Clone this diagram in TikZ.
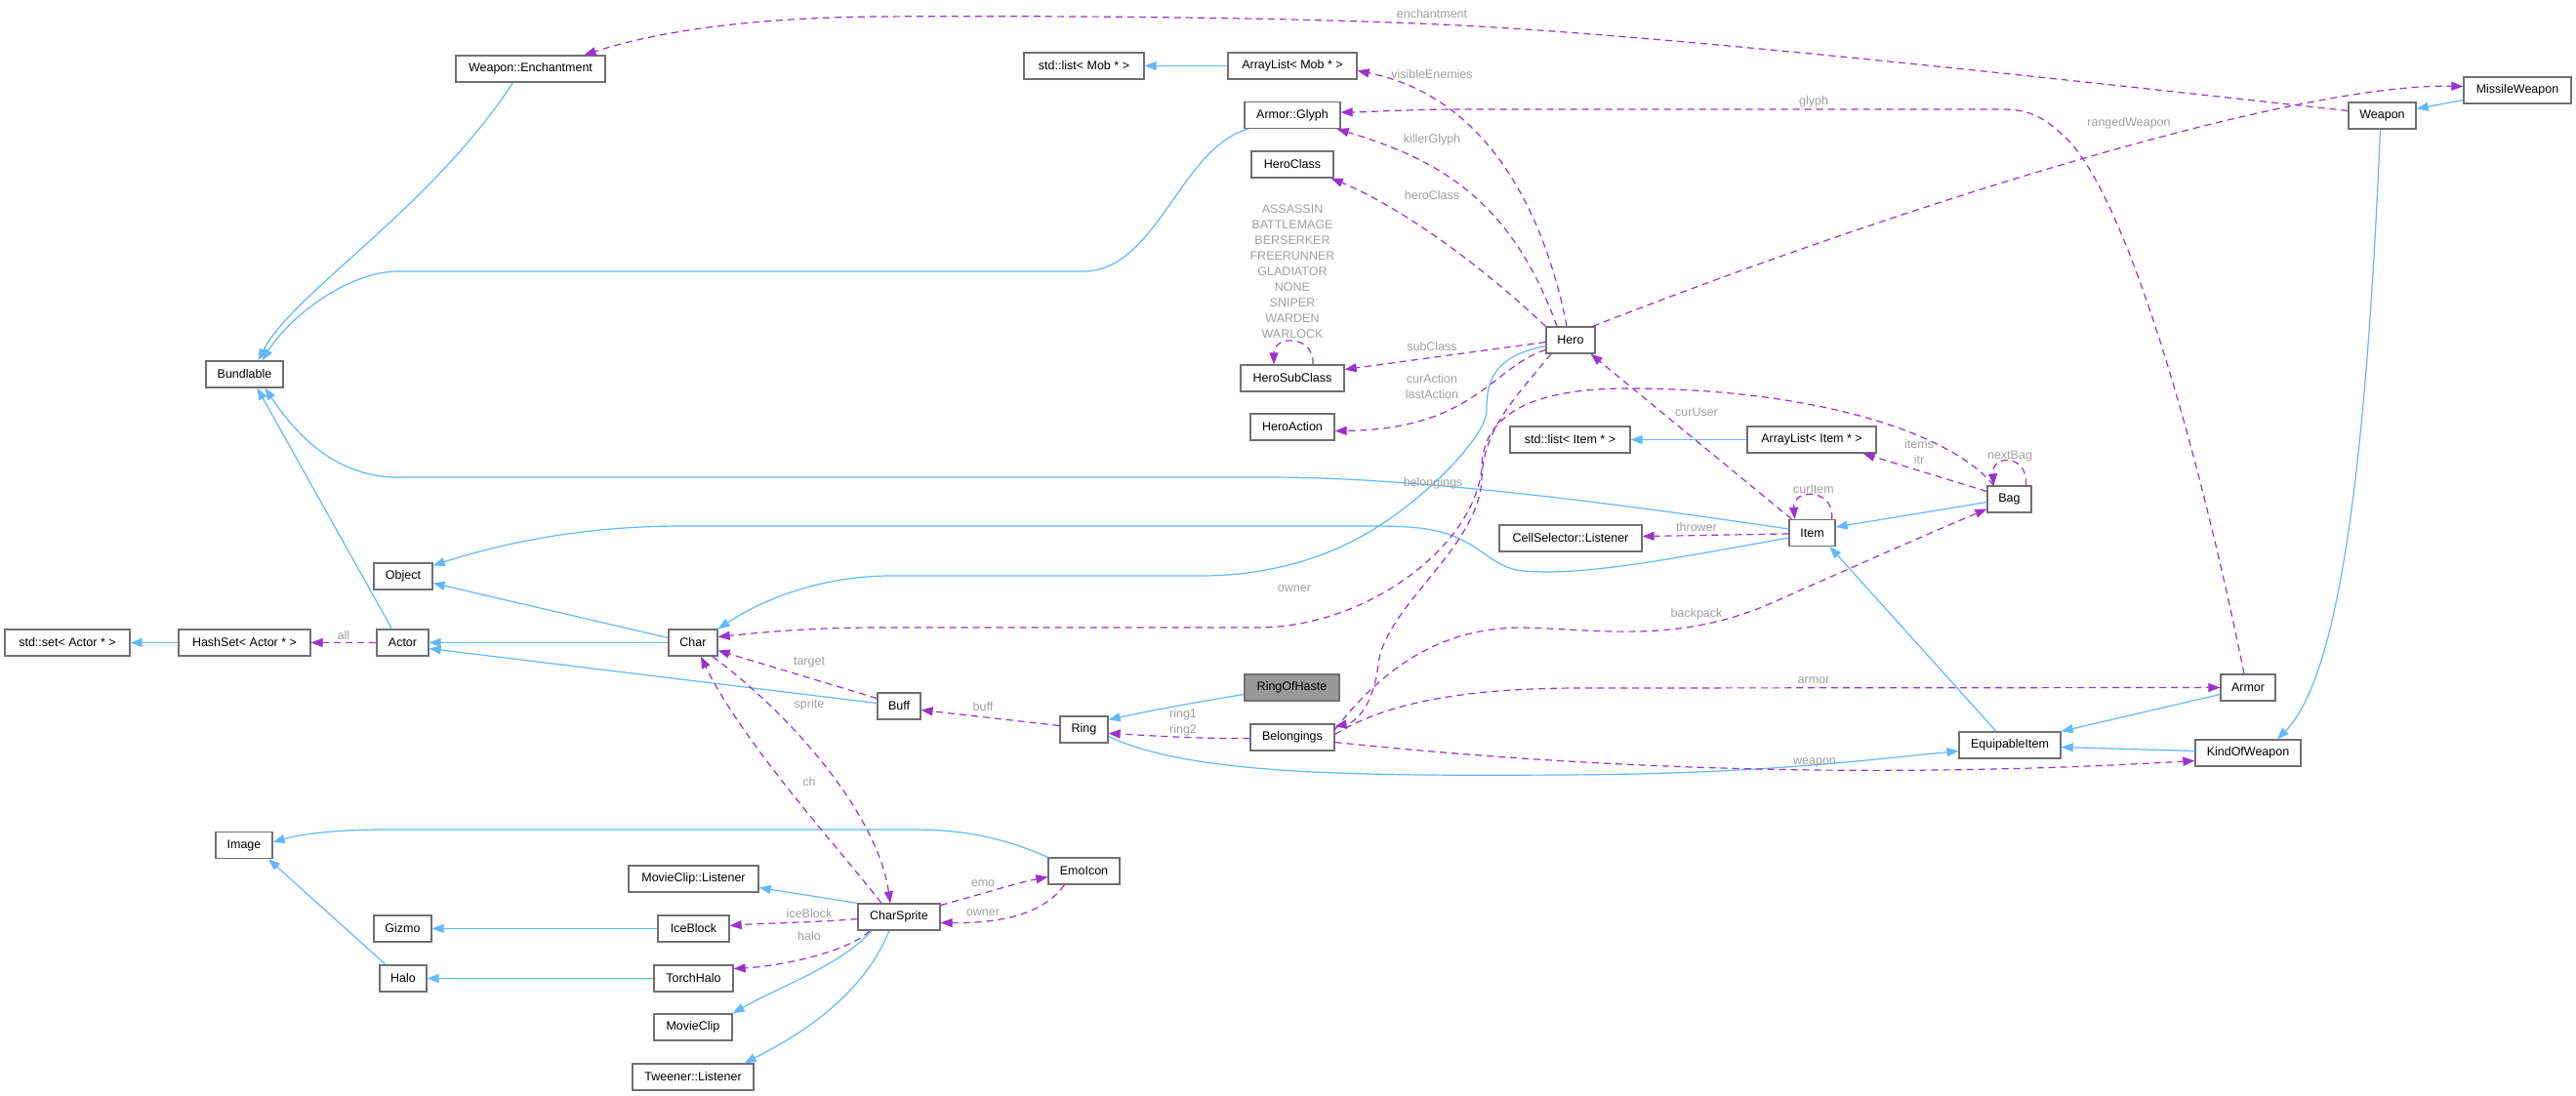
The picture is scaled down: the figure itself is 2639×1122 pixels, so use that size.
\documentclass[tikz,border=0pt]{standalone}
\usepackage{fontspec}
\setmainfont{Liberation Sans}
\usetikzlibrary{arrows.meta}
\definecolor{inhc}{HTML}{63B8FF}
\definecolor{usec}{HTML}{9A32CD}
\definecolor{labc}{HTML}{A0A0A0}
\definecolor{boxc}{HTML}{707070}
\definecolor{curc}{HTML}{999999}
\begin{document}
\begin{tikzpicture}[x=1pt,y=-1pt,
  cls/.style={draw=boxc, line width=1.3pt, fill=white, minimum height=27pt, inner sep=0pt, font=\fontsize{12.5}{15}\selectfont},
  cur/.style={cls, fill=curc},
  inh/.style={draw=inhc, line width=1.2pt, -{Triangle[length=12pt,width=9pt,fill=inhc]}},
  use/.style={draw=usec, line width=1.2pt, dash pattern=on 7pt off 5pt, -{Triangle[length=12pt,width=9pt,fill=usec]}},
  lab/.style={text=labc, inner sep=0pt, align=center, font=\fontsize{12.5}{16}\selectfont}]
\useasboundingbox (0,0) rectangle (2639,1122);
\fill[white] (0,0) rectangle (2639,1122);

% nodes
\node[cls, minimum width=153pt] (ench) at (543.5,70.5) {Weapon::Enchantment};
\node[cls, minimum width=79pt] (bund) at (250.5,383.5) {Bundlable};
\node[cls, minimum width=123pt] (listmob) at (1110.5,67.5) {std::list< Mob * >};
\node[cls, minimum width=132pt] (arrmob) at (1324,67.5) {ArrayList< Mob * >};
\node[cls, minimum width=98pt] (glyph) at (1324,118) {Armor::Glyph};
\node[cls, minimum width=84pt] (heroclass) at (1324,168.5) {HeroClass};
\node[cls, minimum width=106pt] (herosub) at (1324,387.5) {HeroSubClass};
\node[cls, minimum width=86pt] (heroact) at (1324,437.5) {HeroAction};
\node[cls, minimum width=50pt] (hero) at (1609,348.5) {Hero};
\node[cls, minimum width=110pt] (missile) at (2579,92.5) {MissileWeapon};
\node[cls, minimum width=69pt] (weapon) at (2440.5,118.5) {Weapon};
\node[cls, minimum width=123pt] (listitem) at (1608.5,450.5) {std::list< Item * >};
\node[cls, minimum width=132pt] (arritem) at (1856,450.5) {ArrayList< Item * >};
\node[cls, minimum width=45pt] (bag) at (2058.5,511.5) {Bag};
\node[cls, minimum width=47pt] (item) at (1856.5,546) {Item};
\node[cls, minimum width=146pt] (cell) at (1609,551.5) {CellSelector::Listener};
\node[cls, minimum width=56pt] (armor) at (2303,704.5) {Armor};
\node[cls, minimum width=104pt] (equip) at (2059,763.5) {EquipableItem};
\node[cls, minimum width=108pt] (kow) at (2303,771.5) {KindOfWeapon};
\node[cls, minimum width=44pt] (buff) at (921,723.5) {Buff};
\node[cls, minimum width=49pt] (ring) at (1110.5,747.5) {Ring};
\node[cur, minimum width=97pt] (roh) at (1323.5,704.5) {RingOfHaste};
\node[cls, minimum width=86pt] (belong) at (1324,755.5) {Belongings};
\node[cls, minimum width=128pt] (stdset) at (69,658.5) {std::set< Actor * >};
\node[cls, minimum width=135pt] (hashset) at (250.5,658.5) {HashSet< Actor * >};
\node[cls, minimum width=53pt] (actor) at (412.5,658.5) {Actor};
\node[cls, minimum width=60pt] (object) at (413,590.5) {Object};
\node[cls, minimum width=50pt] (char) at (710,658.5) {Char};
\node[cls, minimum width=58pt] (image) at (250,866) {Image};
\node[cls, minimum width=133pt] (mcl) at (710.5,900.5) {MovieClip::Listener};
\node[cls, minimum width=73pt] (emo) at (1110.5,892.5) {EmoIcon};
\node[cls, minimum width=59pt] (gizmo) at (412.5,951.5) {Gizmo};
\node[cls, minimum width=73pt] (ice) at (710.5,951.5) {IceBlock};
\node[cls, minimum width=84pt] (cs) at (921,939.5) {CharSprite};
\node[cls, minimum width=48pt] (halo) at (413,1002.5) {Halo};
\node[cls, minimum width=81pt] (torch) at (710.5,1002.5) {TorchHalo};
\node[cls, minimum width=80pt] (mc) at (710,1052.5) {MovieClip};
\node[cls, minimum width=124pt] (tween) at (710,1103.5) {Tweener::Listener};

% inheritance
\draw[inh] (arrmob.west) -- (listmob.east);
\draw[inh] ([xshift=-18pt]ench.south) .. controls (440,215) and (300,300) .. ([xshift=14pt]bund.north);
\draw[inh] ([xshift=-45pt]glyph.south) .. controls (1210,150) and (1185,278) .. (1110,278) -- (408,278) .. controls (360,278) and (300,320) .. ([xshift=18pt]bund.north);
\draw[inh] ([yshift=4pt]item.west) .. controls (1650,515) and (1450,489) .. (1300,489) -- (408,489) .. controls (340,489) and (300,440) .. ([xshift=21pt]bund.south);
\draw[inh] ([xshift=-11pt]actor.north) -- ([xshift=13pt]bund.south);
\draw[inh] ([yshift=5pt]char.west) -- ([yshift=-7pt]object.east);
\draw[inh] ([yshift=-5pt]item.west) .. controls (1700,575) and (1620,590) .. (1560,585) .. controls (1530,582) and (1520,560) .. (1483,547) .. controls (1460,540) and (1440,539) .. (1400,539) -- (700,539) .. controls (600,539) and (520,555) .. ([yshift=-3pt]object.north east);
\draw[inh] ([yshift=-6pt]hero.west) .. controls (1530,365) and (1523,390) .. (1523,420) .. controls (1523,450) and (1450,520) .. (1394,550) .. controls (1340,580) and (1280,590) .. (1230,590) -- (913,590) .. controls (840,590) and (780,615) .. (char.north east);
\draw[inh] (char.west) -- (actor.east);
\draw[inh] ([yshift=3pt]buff.west) -- ([yshift=-6pt]actor.east);
\draw[inh] (hashset.west) -- (stdset.east);
\draw[inh] (arritem.west) -- (listitem.east);
\draw[inh] ([yshift=-3pt]bag.west) -- ([yshift=6pt]item.east);
\draw[inh] ([xshift=-14pt]equip.north) -- ([xshift=18pt]item.south);
\draw[inh] ([yshift=-7pt]armor.west) -- (equip.north east);
\draw[inh] ([yshift=2pt]kow.west) -- ([yshift=-2pt]equip.east);
\draw[inh] ([yshift=-7pt]ring.east) .. controls (1220,795) and (1400,795) .. (1600,794) .. controls (1800,793) and (1900,780) .. ([yshift=-6pt]equip.west);
\draw[inh] ([yshift=-7pt]roh.west) .. controls (1210,722) and (1170,730) .. ([yshift=-4pt]ring.north east);
\draw[inh] ([xshift=-2pt]weapon.south) .. controls (2425,450) and (2400,690) .. ([xshift=30pt]kow.north);
\draw[inh] ([yshift=-10pt]missile.west) -- ([yshift=7pt]weapon.east);
\draw[inh] (emo.north west) .. controls (1010,850) and (960,850) .. (928,850) -- (392,850) .. controls (350,850) and (310,854) .. ([yshift=3pt]image.east);
\draw[inh] ([xshift=-18pt]halo.north) -- ([xshift=25pt]image.south);
\draw[inh] (ice.west) -- (gizmo.east);
\draw[inh] (torch.west) -- (halo.east);
\draw[inh] (cs.north west) -- ([yshift=-9pt]mcl.east);
\draw[inh] ([xshift=-28pt]cs.south) .. controls (860,990) and (800,1010) .. (mc.north east);
\draw[inh] ([xshift=-10pt]cs.south) .. controls (880,1030) and (800,1070) .. ([xshift=-10pt]tween.north east);

% usage
\draw[use] ([yshift=5pt]weapon.west) .. controls (2100,80) and (1700,35) .. (1474,25) .. controls (1300,17) and (1050,16) .. (900,17) .. controls (780,18) and (680,30) .. ([xshift=55pt]ench.north);
\draw[use] ([xshift=-4pt]hero.north) .. controls (1585,230) and (1530,100) .. ([yshift=-5pt]arrmob.east);
\draw[use] ([xshift=-14pt]hero.north) .. controls (1550,210) and (1480,165) .. ([xshift=-4pt]glyph.south east);
\draw[use] (hero.north west) .. controls (1510,265) and (1430,210) .. ([xshift=-3pt]heroclass.south east);
\draw[use] ([yshift=-2pt]hero.west) -- ([yshift=9pt]herosub.east);
\draw[use] ([yshift=-10pt]hero.west) .. controls (1530,375) and (1510,440) .. ([yshift=-4pt]heroact.east);
\draw[use] ([xshift=-3pt]hero.north east) .. controls (1950,210) and (2350,85) .. ([yshift=4pt]missile.west);
\draw[use] ([xshift=-4pt]armor.north) .. controls (2250,450) and (2180,210) .. (2120,145) .. controls (2095,120) and (2080,112) .. (2050,112) -- (1500,112) .. controls (1440,112) and (1400,115) .. ([yshift=3pt]glyph.east);
\draw[use] ([xshift=3pt]item.north west) -- ([xshift=-5pt]hero.south east);
\draw[use] ([yshift=-1pt]item.west) -- ([yshift=2pt]cell.east);
\draw[use] ([xshift=20pt]item.north) .. controls (1880,500) and (1836,500) .. ([xshift=-18pt]item.north);
\draw[use] ([xshift=17pt]bag.north) .. controls (2078,465) and (2040,465) .. ([xshift=-16pt]bag.north);
\draw[use] ([yshift=8pt]bag.west) -- ([xshift=-14pt]arritem.south east);
\draw[use] ([xshift=-16pt]bag.north) .. controls (1995,440) and (1850,398) .. (1667,398) .. controls (1560,398) and (1518,430) .. (1518,480) .. controls (1510,560) and (1400,643) .. (1288,643) -- (900,643) .. controls (830,643) and (780,648) .. ([yshift=6pt]char.east);
\draw[use] ([xshift=-20pt]hero.south) .. controls (1550,410) and (1520,440) .. (1518,490) .. controls (1516,560) and (1420,620) .. (1412,680) .. controls (1408,720) and (1390,740) .. ([yshift=-3pt]belong.north east);
\draw[use] ([yshift=8pt]belong.east) .. controls (1420,680) and (1480,643) .. (1560,643) .. controls (1640,645) and (1720,660) .. (1817,617) .. controls (1900,580) and (1980,545) .. ([yshift=-10pt]bag.west);
\draw[use] ([yshift=3pt]belong.east) .. controls (1420,720) and (1500,705) .. (1620,705) -- (armor.west);
\draw[use] ([yshift=-5pt]belong.east) .. controls (1600,785) and (1900,800) .. ([yshift=-8pt]kow.west);
\draw[use] ([yshift=-1pt]belong.west) .. controls (1220,757) and (1170,753) .. ([yshift=-4pt]ring.east);
\draw[use] ([yshift=4pt]ring.west) -- ([yshift=-4pt]buff.east);
\draw[use] ([yshift=8pt]buff.west) -- ([yshift=-8pt]char.east);
\draw[use] ([xshift=20pt]char.south) .. controls (820,740) and (900,840) .. ([xshift=-9pt]cs.north);
\draw[use] ([xshift=-18pt]cs.north) .. controls (860,870) and (760,760) .. ([xshift=8pt]char.south);
\draw[use] (actor.west) -- (hashset.east);
\draw[use] ([yshift=12pt]cs.east) .. controls (1010,915) and (1040,905) .. ([yshift=-6pt]emo.west);
\draw[use] ([xshift=-20pt]emo.south) .. controls (1070,935) and (1030,946) .. ([yshift=-6pt]cs.east);
\draw[use] ([yshift=-2pt]cs.west) .. controls (840,945) and (780,946) .. ([yshift=3pt]ice.east);
\draw[use] ([xshift=-30pt]cs.south) .. controls (870,975) and (800,990) .. ([yshift=10pt]torch.east);
\draw[use] ([xshift=21pt]herosub.north) .. controls (1347,343) and (1305,343) .. ([xshift=-19pt]herosub.north);

% labels
\node[lab] (l1) at (1467,14) {enchantment};
\node[lab] (l2) at (1467,76) {visibleEnemies};
\node[lab] (l3) at (1467,143) {killerGlyph};
\node[lab] (l4) at (1467,200) {heroClass};
\node[lab] (l5) at (1324,278) {ASSASSIN\\BATTLEMAGE\\BERSERKER\\FREERUNNER\\GLADIATOR\\NONE\\SNIPER\\WARDEN\\WARLOCK};
\node[lab] (l6) at (1467,355) {subClass};
\node[lab] (l7) at (1467,396) {curAction\\lastAction};
\node[lab] (l8) at (1858,104) {glyph};
\node[lab] (l9) at (2181,126) {rangedWeapon};
\node[lab] (l10) at (1738,422) {curUser};
\node[lab] (l11) at (1966,463) {items\\itr};
\node[lab] (l12) at (2059,467) {nextBag};
\node[lab] (l13) at (1858,501) {curItem};
\node[lab] (l14) at (1738,540) {thrower};
\node[lab] (l15) at (1468,495) {belongings};
\node[lab] (l16) at (1326,603) {owner};
\node[lab] (l17) at (1738,629) {backpack};
\node[lab] (l18) at (1858,697) {armor};
\node[lab] (l19) at (1859,781) {weapon};
\node[lab] (l20) at (1007,724) {buff};
\node[lab] (l21) at (1212,740) {ring1\\ring2};
\node[lab] (l22) at (829,679) {target};
\node[lab] (l23) at (829,722) {sprite};
\node[lab] (l24) at (829,801) {ch};
\node[lab] (l25) at (352,651) {all};
\node[lab] (l26) at (1007,905) {emo};
\node[lab] (l27) at (1007,935) {owner};
\node[lab] (l28) at (829,936) {iceBlock};
\node[lab] (l29) at (829,959) {halo};
\end{tikzpicture}
\end{document}
